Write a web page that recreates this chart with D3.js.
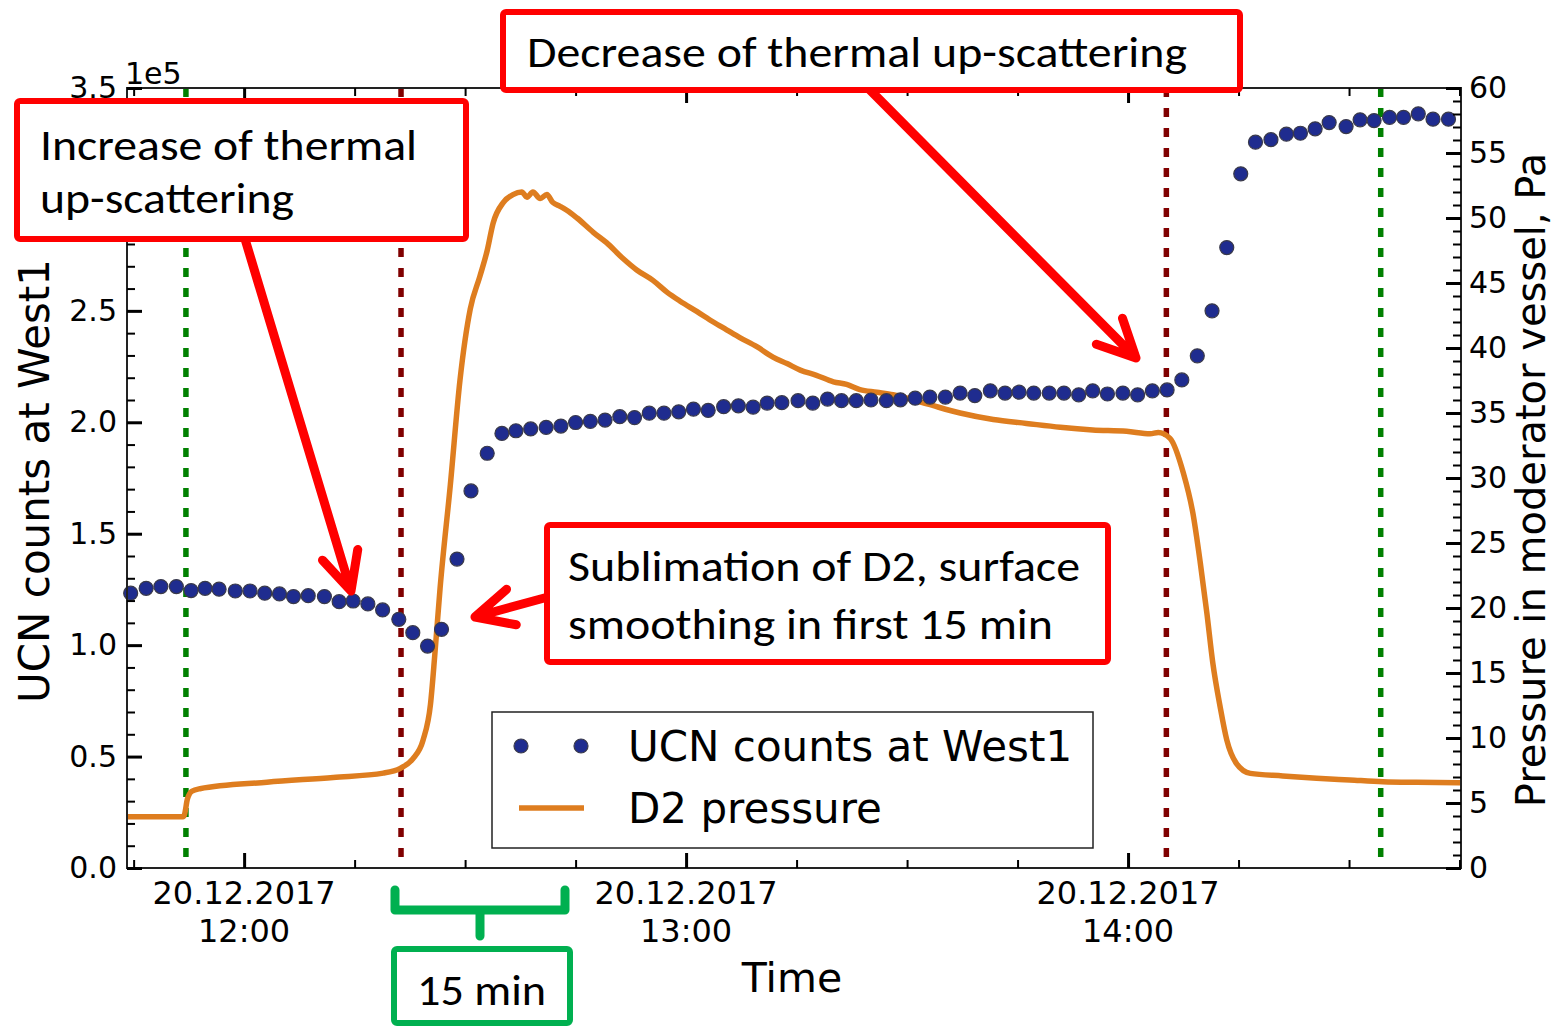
<!DOCTYPE html>
<html><head><meta charset="utf-8">
<script src="https://cdn.jsdelivr.net/npm/d3@7"></script>
<style>
html,body{margin:0;padding:0;background:#fff;}
svg{display:block;}
</style></head><body>
<svg id="chart" width="1557" height="1027"></svg>
<script>
// ---- data (times are minutes after 20.12.2017 12:00) ----
const ucnMinutes = [-15.4,-13.3,-11.3,-9.2,-7.2,-5.3,-3.4,-1.2,0.8,2.8,
  4.8,6.7,8.7,10.9,12.9,14.8,16.8,18.8,21.0,22.9,
  24.9,26.8,28.9,30.8,33.0,35.0,36.9,38.9,41.0,43.0,
  45.0,47.0,49.0,51.0,53.0,55.0,57.0,59.0,61.0,63.0,
  65.1,67.1,69.1,71.0,73.0,75.2,77.2,79.2,81.1,83.1,
  85.1,87.2,89.1,91.1,93.1,95.2,97.2,99.2,101.3,103.3,
  105.2,107.2,109.3,111.3,113.3,115.2,117.2,119.3,121.3,123.3,
  125.3,127.3,129.4,131.4,133.4,135.3,137.3,139.4,141.5,143.4,
  145.4,147.3,149.6,151.5,153.4,155.5,157.4,159.4,161.4,163.5];
const ucnCounts = [1.233,1.255,1.263,1.263,1.245,1.255,1.251,1.243,1.243,1.233,
  1.230,1.218,1.222,1.218,1.195,1.198,1.185,1.158,1.116,1.056,
  0.996,1.071,1.386,1.692,1.861,1.950,1.962,1.970,1.977,1.983,
  1.999,2.004,2.010,2.025,2.021,2.041,2.041,2.047,2.059,2.053,
  2.070,2.074,2.068,2.086,2.088,2.097,2.086,2.104,2.097,2.097,
  2.100,2.097,2.101,2.108,2.113,2.113,2.131,2.120,2.141,2.131,
  2.135,2.131,2.131,2.131,2.123,2.141,2.127,2.131,2.123,2.141,
  2.145,2.190,2.298,2.500,2.784,3.115,3.257,3.268,3.293,3.297,
  3.317,3.345,3.327,3.357,3.354,3.368,3.368,3.384,3.360,3.360]; // x 1e5

const pressureMinutes = [-15.9,-8.3,-8.1,-7.7,-7.1,-6.0,3.1,12.1,18.9,21.2,
  22.9,24.3,25.3,25.9,26.6,28.0,29.3,30.7,32.0,33.0,
  33.8,35.2,36.5,37.7,38.4,39.2,40.2,41.1,41.9,42.9,
  43.8,45.2,47.4,49.2,51.4,53.3,55.5,57.4,59.2,61.5,
  63.7,65.5,67.3,69.6,71.8,73.7,75.5,77.7,80.0,81.8,
  83.6,85.9,88.1,92.7,97.2,101.7,106.2,110.8,115.2,119.8,
  123.0,124.1,125.7,127.5,128.8,129.8,130.7,131.5,132.5,133.4,
  134.7,136.6,141.0,145.6,150.1,154.6,159.2,165.2];
const pressurePa = [3.95,3.95,4.1,5.3,5.9,6.1,6.6,6.97,7.3,7.67,
  8.4,9.85,12.6,16.5,21.5,29.5,37.5,43.0,45.5,47.5,
  49.6,51.2,51.8,52.0,51.6,52.0,51.5,51.8,51.2,50.9,
  50.6,50.0,48.9,48.1,46.9,46.0,45.2,44.3,43.6,42.8,
  42.0,41.4,40.8,40.1,39.3,38.8,38.3,37.9,37.4,37.2,
  36.8,36.6,36.4,35.7,35.0,34.5,34.2,33.9,33.7,33.6,
  33.4,33.5,33.05,30.4,27.3,23.5,19.6,15.8,12.4,9.85,
  8.05,7.28,7.08,6.9,6.77,6.64,6.59,6.56];

const greenMarkerMinutes = [-7.9, 154.3];
const redMarkerMinutes = [21.3, 125.2];
const leftTicks = [0,0.5,1.0,1.5,2.0,2.5,3.0,3.5];
const leftTickLabels = ["0.0","0.5","1.0","1.5","2.0","2.5","","3.5"]; // 3.0 hidden behind the annotation box
const rightTicks = [0,5,10,15,20,25,30,35,40,45,50,55,60];
const timeTickMinutes = [0,60,120];
const timeTickLabels = ["12:00","13:00","14:00"];
const dateLabel = "20.12.2017";

// ---- layout ----
const M = {left:127, right:1461, top:88, bottom:868};
const svg = d3.select("#chart");
const base = new Date(2017,11,20,12,0,0);
const toDate = m => new Date(base.getTime() + m*60000);
const x = d3.scaleTime().domain([toDate(-15.9), toDate(165.2)]).range([M.left, M.right]);
const yL = d3.scaleLinear().domain([0,3.5]).range([M.bottom, M.top]);
const yR = d3.scaleLinear().domain([0,60]).range([M.bottom, M.top]);
const FONT = "DejaVu Sans, sans-serif";
const ORANGE = "#de7d1f", NAVY = "#1f2c8f";

// vertical markers
const vl = svg.append("g");
vl.selectAll("line.g").data(greenMarkerMinutes).join("line")
  .attr("x1", d=>x(toDate(d))).attr("x2", d=>x(toDate(d)))
  .attr("y1", M.top).attr("y2", M.bottom)
  .attr("stroke","#008000").attr("stroke-width",5.5).attr("stroke-dasharray","9,11");
vl.selectAll("line.r").data(redMarkerMinutes).join("line")
  .attr("x1", d=>x(toDate(d))).attr("x2", d=>x(toDate(d)))
  .attr("y1", M.top).attr("y2", M.bottom)
  .attr("stroke","#800000").attr("stroke-width",5.5).attr("stroke-dasharray","9,11");

// pressure line
const pData = pressureMinutes.map((m,i)=>({t:toDate(m), v:pressurePa[i]}));
svg.append("path").datum(pData)
  .attr("fill","none").attr("stroke",ORANGE).attr("stroke-width",5.5)
  .attr("stroke-linejoin","round")
  .attr("d", d3.line().x(d=>x(d.t)).y(d=>yR(d.v)).curve(d3.curveMonotoneX));

// UCN dots
const uData = ucnMinutes.map((m,i)=>({t:toDate(m), v:ucnCounts[i]}));
svg.append("g").selectAll("circle").data(uData).join("circle")
  .attr("cx", d=>x(d.t)).attr("cy", d=>yL(d.v)).attr("r",7)
  .attr("fill",NAVY).attr("stroke","#3a3a4a").attr("stroke-width",1.2);

// frame
svg.append("rect").attr("x",M.left).attr("y",M.top)
  .attr("width",M.right-M.left).attr("height",M.bottom-M.top)
  .attr("fill","none").attr("stroke","#222").attr("stroke-width",2);

function styleAxis(g, w){
  g.select(".domain").remove();
  g.selectAll(".tick line").attr("stroke","#000").attr("stroke-width",w);
  g.selectAll(".tick text").attr("font-family",FONT).attr("fill","#000");
}
// left axis
const leftMinor = d3.range(0,36).map(i=>i/10).filter(v=>Math.round(v*10)%5!==0);
svg.append("g").attr("transform",`translate(${M.left},0)`)
  .call(d3.axisLeft(yL).tickValues(leftMinor).tickSize(-8).tickFormat(""))
  .call(g=>styleAxis(g,2));
svg.append("g").attr("transform",`translate(${M.left},0)`)
  .call(d3.axisLeft(yL).tickValues(leftTicks).tickSize(-15).tickPadding(10)
    .tickFormat((d,i)=>leftTickLabels[i]))
  .call(g=>styleAxis(g,3)).call(g=>g.selectAll(".tick text").attr("font-size",30));
svg.append("text").attr("x",125).attr("y",84).attr("font-family",FONT).attr("font-size",30).text("1e5");

// right axis
const rightMinor = d3.range(0,61).filter(v=>v%5!==0);
svg.append("g").attr("transform",`translate(${M.right},0)`)
  .call(d3.axisRight(yR).tickValues(rightMinor).tickSize(-8).tickFormat(""))
  .call(g=>styleAxis(g,2));
svg.append("g").attr("transform",`translate(${M.right},0)`)
  .call(d3.axisRight(yR).tickValues(rightTicks).tickSize(-15).tickPadding(8).tickFormat(d3.format("d")))
  .call(g=>styleAxis(g,3)).call(g=>g.selectAll(".tick text").attr("font-size",30));

// x axes (bottom with labels, top mirrored)
const xMajor = timeTickMinutes.map(toDate);
const xMinor = d3.range(-15,166,15).filter(m=>m%60!==0).map(toDate);
[[M.bottom,d3.axisBottom],[M.top,d3.axisTop]].forEach(([yy,ax])=>{
  svg.append("g").attr("transform",`translate(0,${yy})`)
    .call(ax(x).tickValues(xMinor).tickSize(-8).tickFormat(""))
    .call(g=>styleAxis(g,2));
  svg.append("g").attr("transform",`translate(0,${yy})`)
    .call(ax(x).tickValues(xMajor).tickSize(-15).tickFormat(""))
    .call(g=>styleAxis(g,3));
});
const xl = svg.append("g").attr("font-family",FONT).attr("font-size",32).attr("text-anchor","middle");
xMajor.forEach((d,i)=>{
  xl.append("text").attr("x",x(d)).attr("y",904).text(dateLabel);
  xl.append("text").attr("x",x(d)).attr("y",942).text(timeTickLabels[i]);
});

// axis titles
svg.append("text").attr("x",792).attr("y",992).attr("text-anchor","middle")
  .attr("font-family",FONT).attr("font-size",41).text("Time");
svg.append("text").attr("transform","translate(49,481) rotate(-90)").attr("text-anchor","middle")
  .attr("font-family",FONT).attr("font-size",42).text("UCN counts at West1");
svg.append("text").attr("transform","translate(1545,480) rotate(-90)").attr("text-anchor","middle")
  .attr("font-family",FONT).attr("font-size",40).text("Pressure in moderator vessel, Pa");

// legend
const lg = svg.append("g");
lg.append("rect").attr("x",492).attr("y",712).attr("width",601).attr("height",136)
  .attr("fill","#fff").attr("stroke","#222").attr("stroke-width",1.5);
[521,581].forEach(cx=>lg.append("circle").attr("cx",cx).attr("cy",746).attr("r",7)
  .attr("fill",NAVY).attr("stroke","#3a3a4a").attr("stroke-width",1.2));
lg.append("line").attr("x1",519).attr("x2",584).attr("y1",808).attr("y2",808)
  .attr("stroke",ORANGE).attr("stroke-width",5.5);
lg.append("text").attr("x",628).attr("y",761).attr("font-family",FONT).attr("font-size",42).text("UCN counts at West1");
lg.append("text").attr("x",628).attr("y",823).attr("font-family",FONT).attr("font-size",42).text("D2 pressure");

// annotations
const ANN_FONT = "Carlito, Calibri, Lato, sans-serif";
const ann = svg.append("g");
function arrow(sx,sy,tx,ty){
  const a = Math.atan2(sy-ty, sx-tx), L=42, w=26*Math.PI/180;
  const w1=[tx+L*Math.cos(a+w), ty+L*Math.sin(a+w)], w2=[tx+L*Math.cos(a-w), ty+L*Math.sin(a-w)];
  ann.append("path").attr("d",`M${sx},${sy}L${tx},${ty}M${w1[0]},${w1[1]}L${tx},${ty}L${w2[0]},${w2[1]}`)
    .attr("fill","none").attr("stroke","#ff0000").attr("stroke-width",9)
    .attr("stroke-linecap","round").attr("stroke-linejoin","round");
}
arrow(245,239,351,591);
arrow(870,90,1136,358);
arrow(548,597,475,617);
function box(x0,y0,w,h,color){
  ann.append("rect").attr("x",x0).attr("y",y0).attr("width",w).attr("height",h).attr("rx",3)
    .attr("fill","#fff").attr("stroke",color).attr("stroke-width",6);
}
function label(t,x0,y0,len){
  ann.append("text").attr("x",x0).attr("y",y0).attr("font-family",ANN_FONT).attr("font-size",44)
    .attr("textLength",len).attr("lengthAdjust","spacingAndGlyphs").text(t);
}
box(17,101,449,138,"#ff0000");
label("Increase of thermal",40,160,377);
label("up-scattering",40,213,254);
box(503,12,737,78,"#ff0000");
label("Decrease of thermal up-scattering",527,67,660);
box(547,525,561,137,"#ff0000");
label("Sublimation of D2, surface",568,581,512);
label("smoothing in first 15 min",568,639,485);

// 15 min bracket
ann.append("path").attr("d","M395,890L395,910L565,910L565,890M480,910L480,936")
  .attr("fill","none").attr("stroke","#00b050").attr("stroke-width",9)
  .attr("stroke-linejoin","round").attr("stroke-linecap","round");
box(394,949,176,74,"#00b050");
label("15 min",417,1005,129);
</script>
</body></html>
